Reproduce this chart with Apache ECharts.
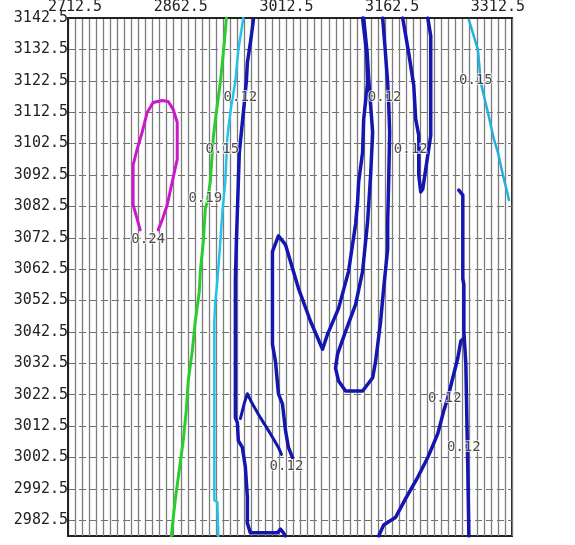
<!DOCTYPE html>
<html>
<head>
<meta charset="utf-8">
<script src="https://cdn.jsdelivr.net/npm/echarts@6/dist/echarts.min.js"></script>
<style>html,body{margin:0;padding:0;background:#fff;}#chart{width:575px;height:545px;}</style>
</head>
<body>
<div id="chart"></div>
<script>
// Axis tick labels
var xTickLabels = ['2712.5', '2862.5', '3012.5', '3162.5', '3312.5'];
var yTickLabels = ['2982.5','2992.5','3002.5','3012.5','3022.5','3032.5','3042.5','3052.5','3062.5','3072.5','3082.5','3092.5','3102.5','3112.5','3122.5','3132.5','3142.5'];

// Contour level 0.24 (magenta)
var contour024 = [[2804.9,3075.0],[2800.6,3078.5],[2794.9,3083.0],[2794.9,3095.6],[2800.6,3100.7],[2807.7,3106.1],[2814.8,3112.4],[2823.4,3115.6],[2836.2,3116.2],[2844.7,3115.9],[2851.8,3113.4],[2857.5,3109.2],[2857.5,3097.5],[2850.4,3090.3],[2843.3,3083.0],[2836.2,3078.2],[2830.5,3075.0]];

// Contour level 0.19 (green)
var contour019 = [[2927.2,3142.5],[2924.3,3134.6],[2921.5,3128.3],[2918.6,3121.9],[2912.9,3112.4],[2908.7,3104.5],[2904.4,3090.3],[2900.1,3083.9],[2897.3,3081.7],[2894.5,3071.2],[2890.2,3061.8],[2888.8,3055.4],[2883.1,3045.9],[2878.8,3036.4],[2873.1,3026.9],[2870.3,3017.4],[2866.0,3007.9],[2860.3,2998.4],[2854.6,2988.9],[2849.0,2977.5]];

// Contour level 0.15 (cyan), two pieces
var contour015a = [[2951.3,3142.5],[2944.2,3132.4],[2940.0,3122.5],[2932.8,3112.4],[2928.6,3104.5],[2925.7,3090.3],[2921.5,3080.7],[2918.6,3071.2],[2914.4,3058.6],[2911.5,3052.2],[2910.1,3045.9],[2910.1,3020.6],[2910.1,2988.9],[2914.4,2988.3],[2915.8,2977.5]];
var contour015b = [[3271.3,3141.9],[3284.1,3132.4],[3288.3,3121.9],[3298.3,3112.4],[3306.8,3103.9],[3312.5,3099.7],[3319.6,3092.5],[3326.7,3086.1],[3328.1,3084.5]];

// Contour level 0.12 (dark blue), several pieces
var contour012a = [[2965.6,3141.9],[2961.3,3134.6],[2957.0,3128.3],[2955.6,3122.5],[2952.8,3115.6],[2951.3,3112.4],[2948.5,3106.1],[2945.6,3099.7],[2944.2,3090.3],[2942.8,3080.7],[2941.4,3071.2],[2940.0,3058.6],[2940.0,3015.2],[2942.8,3013.6],[2944.2,3007.9],[2949.9,3005.7],[2954.2,2999.4],[2957.0,2989.9],[2957.0,2981.6],[2961.3,2978.5],[2999.7,2978.5],[3003.9,2979.7],[3008.2,2978.5],[3011.1,2977.5]];
var contour012b = [[2947.1,3014.9],[2952.8,3019.9],[2957.0,3022.8],[2964.1,3019.6],[2975.5,3015.2],[2989.7,3010.1],[3001.1,3005.7],[3005.4,3003.5]];
var contour012c = [[3120.5,3142.5],[3126.2,3131.4],[3127.6,3121.9],[3122.0,3110.2],[3120.5,3099.7],[3114.9,3090.3],[3113.4,3083.9],[3110.6,3076.9],[3100.6,3061.8],[3086.4,3050.0],[3070.8,3041.8],[3063.7,3037.0],[3046.6,3045.9],[3029.5,3056.4],[3011.1,3070.3],[3001.1,3073.1],[2992.6,3068.1],[2992.6,3038.6],[2996.8,3033.2],[3001.1,3022.8],[3006.8,3019.6],[3011.1,3011.1],[3015.3,3005.7],[3021.0,3002.5]];
var contour012d = [[3122.0,3142.5],[3127.0,3131.4],[3129.5,3121.9],[3134.8,3106.1],[3131.9,3092.5],[3127.6,3077.6],[3120.5,3061.8],[3110.6,3051.3],[3096.4,3042.7],[3085.0,3035.5],[3082.1,3031.0],[3086.4,3026.9],[3096.4,3023.7],[3120.5,3023.7],[3134.8,3027.9],[3139.0,3033.2],[3146.1,3045.9],[3150.4,3056.4],[3156.1,3069.0],[3156.1,3077.6],[3157.5,3090.3],[3158.9,3106.1],[3157.5,3115.6],[3156.1,3121.9],[3151.8,3134.6],[3149.0,3142.5]];
var contour012e = [[3177.4,3142.5],[3185.9,3131.4],[3193.1,3121.0],[3195.9,3110.2],[3200.2,3105.1],[3200.2,3092.5],[3203.0,3087.1],[3205.9,3088.0],[3210.1,3094.4],[3217.2,3105.1],[3217.2,3136.8],[3213.0,3142.5]];
var contour012f = [[3257.0,3087.7],[3262.7,3086.1],[3262.7,3059.5],[3264.2,3057.6],[3264.2,3042.7],[3267.0,3032.3],[3269.8,2998.4],[3271.3,2977.5]];
var contour012g = [[3143.3,2977.5],[3150.4,2981.0],[3167.5,2983.5],[3181.7,2989.5],[3198.7,2996.2],[3213.0,3002.5],[3227.2,3010.1],[3235.7,3017.4],[3241.4,3021.5],[3248.5,3027.9],[3255.6,3034.2],[3259.9,3039.6],[3264.2,3040.5]];

// Contour labels: [x, y, text]
var contourLabels = [
  [2947.1, 3117.2, '0.12'],
  [2921.5, 3100.7, '0.15'],
  [2897.3, 3084.9, '0.19'],
  [2816.3, 3071.9, '0.24'],
  [3151.8, 3117.2, '0.12'],
  [3188.8, 3100.7, '0.12'],
  [3281.2, 3122.5, '0.15'],
  [3012.5, 2999.7, '0.12'],
  [3237.1, 3021.2, '0.12'],
  [3264.2, 3005.7, '0.12']
];

var FONT = 'DejaVu Sans Mono';
function lineSeries(data, color, width) {
  return {
    type: 'line', data: data, showSymbol: false, symbol: 'none', smooth: false,
    clip: true, silent: true, z: 3,
    lineStyle: { color: color, width: width, cap: 'round', join: 'round' }
  };
}
var BLUE = '#1515b0';
var series = [
  lineSeries(contour019, '#2ccc2c', 3),
  lineSeries(contour015a, '#22c4ec', 2.5),
  lineSeries(contour015b, '#22b0e0', 2.5),
  lineSeries(contour024, '#cc18cc', 3),
  lineSeries(contour012a, BLUE, 3.5),
  lineSeries(contour012b, BLUE, 3),
  lineSeries(contour012c, BLUE, 3.5),
  lineSeries(contour012d, BLUE, 3.5),
  lineSeries(contour012e, BLUE, 3.5),
  lineSeries(contour012f, BLUE, 3.5),
  lineSeries(contour012g, BLUE, 3.5),
  {
    type: 'scatter', z: 5, silent: true, symbolSize: 0.1,
    itemStyle: { color: 'rgba(0,0,0,0)' },
    data: contourLabels.map(function (d) { return { value: [d[0], d[1]], name: d[2] }; }),
    label: {
      show: true, position: 'inside', formatter: function (p) { return p.name; },
      fontFamily: FONT, fontSize: 14, color: '#1e1e1e',
      textBorderColor: 'rgba(255,255,255,0.85)', textBorderWidth: 2
    }
  }
];

var chart = echarts.init(document.getElementById('chart'), null, { renderer: 'canvas' });
chart.setOption({
  animation: false,
  backgroundColor: '#fff',
  grid: { left: 68, top: 15, right: 63, bottom: 9, show: true, borderColor: '#222', borderWidth: 2, backgroundColor: 'transparent' },
  xAxis: {
    type: 'value', position: 'top', min: 2702.5, max: 3332.5, interval: 10,
    axisLine: { show: true, lineStyle: { color: '#222', width: 2 } },
    axisTick: { show: false },
    axisLabel: {
      margin: 3, fontFamily: FONT, fontSize: 15, color: '#222', showMinLabel: true, showMaxLabel: true,
      formatter: function (v) { var s = v.toFixed(1); return xTickLabels.indexOf(s) >= 0 ? s : ''; }
    },
    splitLine: { show: true, lineStyle: { color: '#7c7c7c', width: 1.3, type: 'solid' } }
  },
  yAxis: {
    type: 'value', min: 2977.5, max: 3142.5, interval: 5,
    axisLine: { show: true, lineStyle: { color: '#222', width: 2 } },
    axisTick: { show: false },
    axisLabel: {
      margin: 0, fontFamily: FONT, fontSize: 15, color: '#222', showMinLabel: true, showMaxLabel: true,
      formatter: function (v) { var s = v.toFixed(1); return yTickLabels.indexOf(s) >= 0 ? s : ''; }
    },
    splitLine: { show: true, lineStyle: { color: ['rgba(0,0,0,0)', '#707070'], width: 1, type: [7, 4] } }
  },
  series: series
});
</script>
</body>
</html>
